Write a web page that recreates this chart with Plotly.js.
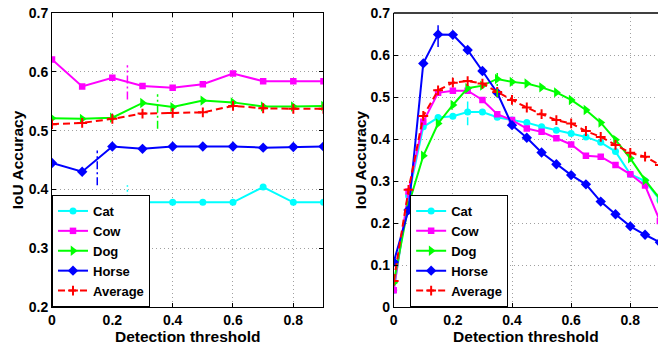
<!DOCTYPE html>
<html>
<head>
<meta charset="utf-8">
<script src="https://cdn.plot.ly/plotly-3.0.1.min.js"></script>
<style>html,body{margin:0;padding:0;background:#fff;overflow:hidden}</style>
</head>
<body>
<div id="chart" style="width:658px;height:346px"></div>
<script>
// ---- data ----
var seriesNames = ['Cat', 'Cow', 'Dog', 'Horse', 'Average'];

var leftX = [0, 0.1, 0.2, 0.3, 0.4, 0.5, 0.6, 0.7, 0.8, 0.9];
var leftCat   = [0.367, 0.378, 0.378, 0.378, 0.378, 0.378, 0.378, 0.404, 0.378, 0.378];
var leftCow   = [0.621, 0.575, 0.590, 0.576, 0.573, 0.579, 0.597, 0.584, 0.584, 0.584];
var leftDog   = [0.521, 0.520, 0.522, 0.547, 0.540, 0.551, 0.548, 0.541, 0.541, 0.542];
var leftHorse = [0.445, 0.430, 0.473, 0.469, 0.473, 0.473, 0.473, 0.471, 0.472, 0.473];
var leftAvg   = [0.511, 0.513, 0.520, 0.529, 0.530, 0.531, 0.542, 0.538, 0.537, 0.537];

var rightX = [0, 0.05, 0.1, 0.15, 0.2, 0.25, 0.3, 0.35, 0.4, 0.45, 0.5, 0.55, 0.6, 0.65, 0.7, 0.75, 0.8, 0.85, 0.9];
var rightCat   = [0.040, 0.265, 0.429, 0.451, 0.454, 0.464, 0.464, 0.452, 0.445, 0.439, 0.429, 0.421, 0.413, 0.405, 0.392, 0.370, 0.316, 0.300, 0.255];
var rightCow   = [0.040, 0.275, 0.441, 0.510, 0.515, 0.515, 0.493, 0.459, 0.445, 0.425, 0.417, 0.402, 0.387, 0.360, 0.358, 0.338, 0.316, 0.289, 0.205];
var rightDog   = [0.058, 0.243, 0.360, 0.437, 0.481, 0.521, 0.527, 0.543, 0.536, 0.532, 0.523, 0.511, 0.493, 0.469, 0.439, 0.398, 0.354, 0.302, 0.258];
var rightHorse = [0.107, 0.231, 0.580, 0.649, 0.648, 0.612, 0.562, 0.510, 0.433, 0.403, 0.368, 0.340, 0.314, 0.292, 0.251, 0.221, 0.192, 0.172, 0.154];
var rightAvg   = [0.062, 0.279, 0.455, 0.516, 0.534, 0.538, 0.532, 0.512, 0.493, 0.475, 0.459, 0.445, 0.437, 0.419, 0.405, 0.386, 0.367, 0.358, 0.338];

// vertical marker segments: [series index, threshold, low, high]
var leftMarks  = [[1, 0.25, 0.553, 0.611], [2, 0.35, 0.503, 0.562], [3, 0.15, 0.407, 0.466], [0, 0.25, 0.350, 0.407]];
var rightMarks = [[3, 0.15, 0.619, 0.671], [0, 0.25, 0.433, 0.489], [2, 0.35, 0.500, 0.564]];

var xTicks = [0, 0.2, 0.4, 0.6, 0.8];
var xTickText = ['0', '0.2', '0.4', '0.6', '0.8'];
var leftYTicks = [0.2, 0.3, 0.4, 0.5, 0.6, 0.7];
var rightYTicks = [0, 0.1, 0.2, 0.3, 0.4, 0.5, 0.6, 0.7];
var rightYText = ['0', '0.1', '0.2', '0.3', '0.4', '0.5', '0.6', '0.7'];

// ---- styles ----
var colors = ['#00ffff', '#ff00ff', '#00ff00', '#0000ff', '#ff0000'];
var symbols = ['circle', 'square', 'triangle-right', 'diamond', 'cross-thin-open'];
var sizes = [7, 6.5, 9, 8, 7];
var FONT = 'Liberation Sans, Arial, Helvetica, sans-serif';

function makeTraces(x, ys, xa, ya, legendName, marks) {
  var tr = [];
  ys.forEach(function (y, i) {
    var isAvg = i === 4;
    tr.push({
      type: 'scatter', mode: 'lines+markers', x: x, y: y,
      xaxis: xa, yaxis: ya, name: seriesNames[i], legend: legendName,
      line: {color: colors[i], width: 2, dash: isAvg ? '7px,4px' : 'solid'},
      marker: {symbol: symbols[i], size: sizes[i], color: colors[i],
               line: {color: colors[i], width: isAvg ? 2 : 0}}
    });
  });
  marks.forEach(function (m) {
    tr.push({
      type: 'scatter', mode: 'lines', x: [m[1], m[1]], y: [m[2], m[3]],
      xaxis: xa, yaxis: ya, showlegend: false, hoverinfo: 'skip',
      line: {color: colors[m[0]], width: 1.5, dash: '8px,3px,2px,3px'}
    });
  });
  return tr;
}

var traces = makeTraces(leftX, [leftCat, leftCow, leftDog, leftHorse, leftAvg], 'x', 'y', 'legend', leftMarks)
  .concat(makeTraces(rightX, [rightCat, rightCow, rightDog, rightHorse, rightAvg], 'x2', 'y2', 'legend2', rightMarks));

var tickFont = {family: FONT, size: 14, color: '#000', weight: 'bold'};
var titleFont = {family: FONT, size: 15.5, color: '#000', weight: 'bold'};

function axisBase() {
  return {
    showline: true, linecolor: '#000', linewidth: 1,
    ticks: 'inside', ticklen: 4, tickcolor: '#000', tickwidth: 1,
    showgrid: true, gridcolor: '#a0a0a0', gridwidth: 1, griddash: '1px,3px',
    zeroline: false, tickfont: tickFont, fixedrange: true
  };
}

var xa1 = Object.assign(axisBase(), {domain: [0, 0.448], range: [0, 0.9], tickvals: xTicks, ticktext: xTickText,
  mirror: 'ticks', anchor: 'y', title: {text: 'Detection threshold', font: titleFont, standoff: 1}});
var ya1 = Object.assign(axisBase(), {domain: [0, 1], range: [0.2, 0.7], tickvals: leftYTicks,
  mirror: 'ticks', anchor: 'x', title: {text: 'IoU Accuracy', font: titleFont, standoff: 1}});
var xa2 = Object.assign(axisBase(), {domain: [0.5639, 1], range: [0, 0.8937], tickvals: xTicks, ticktext: xTickText,
  mirror: false, anchor: 'y2', title: {text: 'Detection threshold', font: titleFont, standoff: 1}});
var ya2 = Object.assign(axisBase(), {domain: [0, 1], range: [0, 0.7], tickvals: rightYTicks, ticktext: rightYText,
  mirror: false, anchor: 'x2', title: {text: 'IoU Accuracy', font: titleFont, standoff: 0}});

var legendBase = {
  font: {family: FONT, size: 13, color: '#000', weight: 'bold'},
  bgcolor: '#ffffff', bordercolor: '#000', borderwidth: 1,
  xanchor: 'left', yanchor: 'bottom', y: 0, itemwidth: 30, tracegroupgap: 0,
  traceorder: 'normal'
};

var layout = {
  width: 658, height: 346,
  margin: {l: 52, r: 0, t: 13, b: 39, pad: 0},
  paper_bgcolor: '#fff', plot_bgcolor: '#fff',
  showlegend: true,
  xaxis: xa1, yaxis: ya1, xaxis2: xa2, yaxis2: ya2,
  legend: Object.assign({}, legendBase, {x: 0}),
  legend2: Object.assign({}, legendBase, {x: 0.591}),
  shapes: [{type: 'line', xref: 'x2 domain', yref: 'y2 domain', x0: 0, x1: 1, y0: 1, y1: 1,
            line: {color: '#000', width: 1.5}}]
};

Plotly.newPlot('chart', traces, layout, {displayModeBar: false, staticPlot: true});
</script>
</body>
</html>
